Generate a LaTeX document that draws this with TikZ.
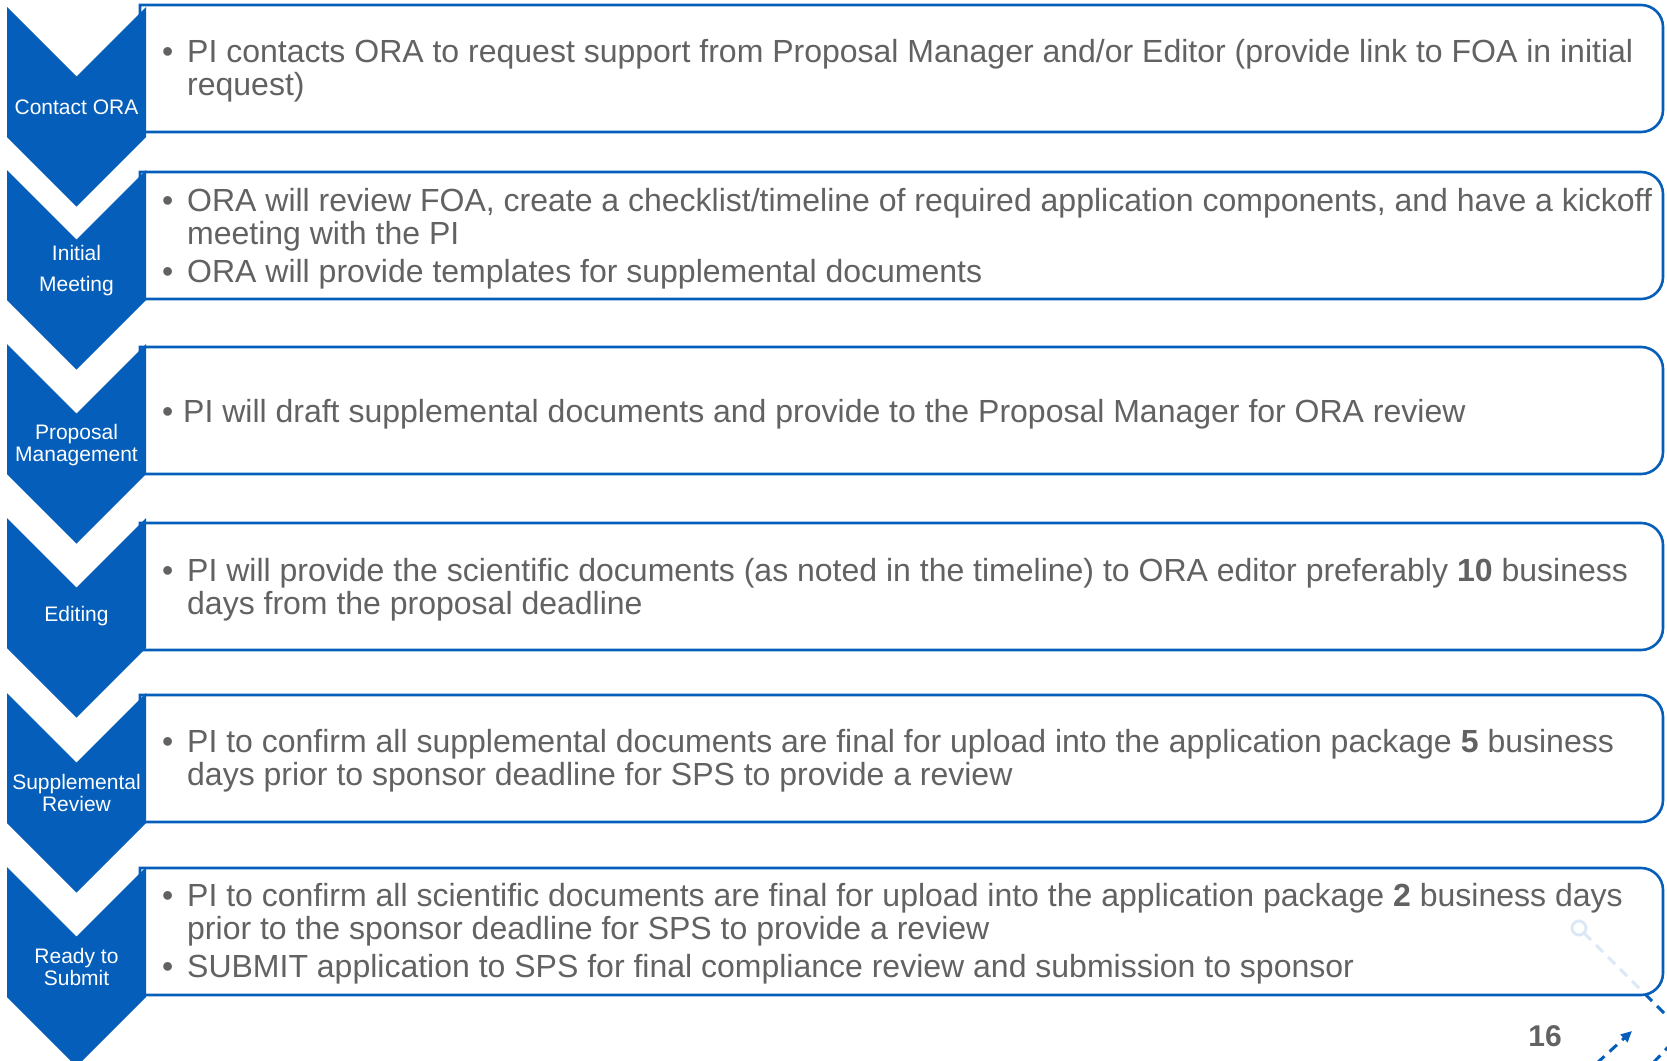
\documentclass[tikz,border=0pt]{standalone}
\usepackage{fontspec}
\setmainfont{Liberation Sans}
\usepackage{xcolor}
\usepackage{tikz}
\usetikzlibrary{arrows.meta}
\definecolor{oraBlue}{RGB}{4,94,186}
\definecolor{noteGray}{RGB}{98,98,98}
\definecolor{paleBlue}{RGB}{221,232,247}
\newcommand{\itembul}{\makebox[25pt][l]{\textbullet}}
\newcommand{\itemind}{\hspace*{25pt}}
\tikzset{
  chev/.style={fill=oraBlue},
  panel/.style={draw=oraBlue, line width=2.6pt, fill=white},
  steplabel/.style={text=white, align=center, inner sep=0pt, font=\fontsize{21}{22}\selectfont},
  notes/.style={text=noteGray, align=left, anchor=west, inner sep=0pt, font=\fontsize{32}{33}\selectfont},
  pagenum/.style={text=noteGray, inner sep=0pt, font=\bfseries\fontsize{30}{32}\selectfont},
  trail/.style={oraBlue, line width=3pt, dash pattern=on 10pt off 7pt},
  faint/.style={paleBlue, line width=3pt}
}

\begin{document}
\begin{tikzpicture}[x=1pt, y=1pt]
  \useasboundingbox (0,0) rectangle (1667,-1060);
  \clip (0,0) rectangle (1667,-1060);

  % panels (square on the left, rounded on the right)
  \draw[panel] (140,-5) -- ++(1501,0) arc[start angle=90,end angle=0,radius=22] -- ++(0,-83) arc[start angle=0,end angle=-90,radius=22] -- ++(-1501,0) -- cycle;
  \draw[panel] (140,-172) -- ++(1501,0) arc[start angle=90,end angle=0,radius=22] -- ++(0,-83) arc[start angle=0,end angle=-90,radius=22] -- ++(-1501,0) -- cycle;
  \draw[panel] (140,-347) -- ++(1501,0) arc[start angle=90,end angle=0,radius=22] -- ++(0,-83) arc[start angle=0,end angle=-90,radius=22] -- ++(-1501,0) -- cycle;
  \draw[panel] (140,-523) -- ++(1501,0) arc[start angle=90,end angle=0,radius=22] -- ++(0,-83) arc[start angle=0,end angle=-90,radius=22] -- ++(-1501,0) -- cycle;
  \draw[panel] (140,-695) -- ++(1501,0) arc[start angle=90,end angle=0,radius=22] -- ++(0,-83) arc[start angle=0,end angle=-90,radius=22] -- ++(-1501,0) -- cycle;
  \draw[panel] (140,-868) -- ++(1501,0) arc[start angle=90,end angle=0,radius=22] -- ++(0,-83) arc[start angle=0,end angle=-90,radius=22] -- ++(-1501,0) -- cycle;

  % chevrons
  \fill[chev] (7,-7) -- ++(69.5,-69.5) -- ++(69.5,69.5) -- ++(0,-130) -- ++(-69.5,-69.5) -- ++(-69.5,69.5) -- cycle;
  \fill[chev] (7,-170) -- ++(69.5,-69.5) -- ++(69.5,69.5) -- ++(0,-130) -- ++(-69.5,-69.5) -- ++(-69.5,69.5) -- cycle;
  \fill[chev] (7,-344) -- ++(69.5,-69.5) -- ++(69.5,69.5) -- ++(0,-130) -- ++(-69.5,-69.5) -- ++(-69.5,69.5) -- cycle;
  \fill[chev] (7,-518) -- ++(69.5,-69.5) -- ++(69.5,69.5) -- ++(0,-130) -- ++(-69.5,-69.5) -- ++(-69.5,69.5) -- cycle;
  \fill[chev] (7,-693) -- ++(69.5,-69.5) -- ++(69.5,69.5) -- ++(0,-130) -- ++(-69.5,-69.5) -- ++(-69.5,69.5) -- cycle;
  \fill[chev] (7,-867) -- ++(69.5,-69.5) -- ++(69.5,69.5) -- ++(0,-130) -- ++(-69.5,-69.5) -- ++(-69.5,69.5) -- cycle;

  \node[steplabel] (contact) at (76.5,-107.5) {Contact ORA};
  \node[steplabel, font=\fontsize{21}{31}\selectfont] (meeting) at (76.5,-270.5) {Initial\\Meeting};
  \node[steplabel] (proposal) at (76.5,-445.5) {Proposal\\Management};
  \node[steplabel] (editing) at (76.5,-616.5) {Editing};
  \node[steplabel] (supplemental) at (76.5,-792.5) {Supplemental\\Review};
  \node[steplabel] (ready) at (76.5,-966.5) {Ready to\\Submit};

  \node[notes] (contactinfo) at (162,-71) {\itembul PI contacts ORA to request support from Proposal Manager and/or Editor (provide link to FOA in initial\\\itemind request)};
  \node[notes] (meetinginfo) at (162,-238.5) {\itembul ORA will review FOA, create a checklist/timeline of required application components, and have a kickoff\\\itemind meeting with the PI\\[5pt]\itembul ORA will provide templates for supplemental documents};
  \node[notes] (proposalinfo) at (162,-414) {\makebox[21pt][l]{\textbullet}PI will draft supplemental documents and provide to the Proposal Manager for ORA review};
  \node[notes] (editinginfo) at (162,-589.5) {\itembul PI will provide the scientific documents (as noted in the timeline) to ORA editor preferably \textbf{10} business\\\itemind days from the proposal deadline};
  \node[notes] (supplementalinfo) at (162,-761) {\itembul PI to confirm all supplemental documents are final for upload into the application package \textbf{5} business\\\itemind days prior to sponsor deadline for SPS to provide a review};
  \node[notes] (readyinfo) at (162,-934) {\itembul PI to confirm all scientific documents are final for upload into the application package \textbf{2} business days\\\itemind prior to the sponsor deadline for SPS to provide a review\\[5pt]\itembul SUBMIT application to SPS for final compliance review and submission to sponsor};

  % page number and leftover trail
  \node[pagenum] (pgno) at (1545,-1036) {16};
  \draw[faint] (1579,-928) circle[radius=7];
  \draw[faint, dash pattern=on 10pt off 7pt] (1584,-933) -- (1641,-990);
  \coordinate (trailA) at (1645,-994);
  \coordinate (trailB) at (1674,-1023);
  \draw[trail] (trailA) -- (trailB);
  \coordinate (arrS) at (1597,-1063);
  \coordinate (arrE) at (1632,-1031);
  \draw[trail, -{Triangle[length=11pt,width=10pt]}] (arrS) -- (arrE);
  \coordinate (edgeA) at (1672,-1043);
  \coordinate (edgeB) at (1652,-1064);
  \draw[trail] (edgeA) -- (edgeB);
\end{tikzpicture}
\end{document}
